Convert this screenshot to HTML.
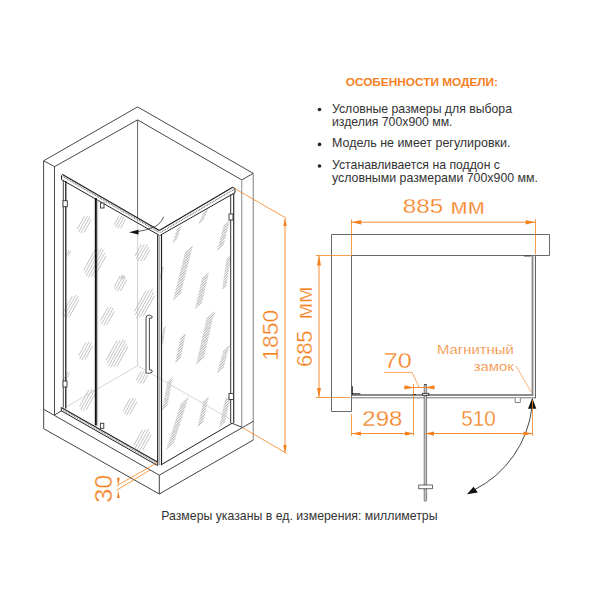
<!DOCTYPE html>
<html><head><meta charset="utf-8"><style>
html,body{margin:0;padding:0;background:#fff;}
svg{display:block;font-family:"Liberation Sans", sans-serif;}
</style></head><body>
<svg width="600" height="600" viewBox="0 0 600 600">
<rect width="600" height="600" fill="#fff"/>
<defs><pattern id="hp" width="1.9" height="1.9" patternUnits="userSpaceOnUse" patternTransform="rotate(48)"><rect width="1.9" height="1.9" fill="#fff"/><line x1="0" y1="0" x2="0" y2="1.9" stroke="#6e6e6e" stroke-width="1.0"/></pattern></defs>
<g fill="url(#hp)" stroke="none"><polygon points="172.0,244.0 177.0,239.5 182.0,224.7 177.0,229.2"/><polygon points="198.0,225.0 203.5,220.1 209.0,207.0 203.5,211.9"/><polygon points="217.0,251.0 223.5,245.2 230.0,220.0 223.5,225.8"/><polygon points="173.0,300.5 181.0,293.3 193.0,245.0 185.0,252.2"/><polygon points="195.0,309.0 202.0,302.7 209.0,272.0 202.0,278.3"/><polygon points="222.0,290.0 226.5,285.9 231.0,255.0 226.5,259.1"/><polygon points="159.0,281.0 161.5,278.8 164.0,266.0 161.5,268.2"/><polygon points="210.0,320.0 213.0,317.3 216.0,311.0 213.0,313.7"/><polygon points="194.7,308.5 198.2,305.4 201.7,300.0 198.2,303.1"/><polygon points="196.0,365.0 204.0,357.8 214.5,311.0 206.5,318.2"/><polygon points="175.0,363.7 180.5,358.8 186.0,332.6 180.5,337.6"/><polygon points="217.0,373.6 223.5,367.8 230.0,344.0 223.5,349.9"/><polygon points="160.7,345.0 163.3,342.6 166.0,325.5 163.3,327.9"/><polygon points="162.0,410.5 167.5,405.6 173.0,376.5 167.5,381.4"/><polygon points="166.0,450.0 174.0,442.8 189.0,396.0 181.0,403.2"/><polygon points="197.5,427.5 203.2,422.3 209.0,396.0 203.2,401.2"/><polygon points="219.0,427.5 225.2,421.9 231.5,393.5 225.2,399.1"/></g>
<g stroke="#9a9a9a" stroke-width="0.6"><line x1="77.3" y1="229.1" x2="84.4" y2="216.3"/><line x1="78.5" y1="232.1" x2="87.6" y2="215.7"/><line x1="80.7" y1="233.3" x2="89.8" y2="216.9"/><line x1="83.9" y1="232.7" x2="91.0" y2="219.9"/><line x1="114.1" y1="224.7" x2="119.1" y2="215.6"/><line x1="115.5" y1="227.2" x2="122.0" y2="215.6"/><line x1="117.7" y1="228.4" x2="124.2" y2="216.8"/><line x1="120.6" y1="228.4" x2="125.6" y2="219.3"/><line x1="134.9" y1="256.1" x2="141.3" y2="244.6"/><line x1="136.4" y1="258.5" x2="144.2" y2="244.6"/><line x1="137.9" y1="261.0" x2="147.1" y2="244.5"/><line x1="140.8" y1="260.9" x2="148.6" y2="247.0"/><line x1="143.7" y1="260.9" x2="150.1" y2="249.4"/><line x1="83.7" y1="270.2" x2="95.1" y2="249.7"/><line x1="84.9" y1="273.2" x2="98.2" y2="249.2"/><line x1="86.1" y1="276.2" x2="101.4" y2="248.6"/><line x1="88.3" y1="277.4" x2="103.6" y2="249.8"/><line x1="91.5" y1="276.8" x2="104.8" y2="252.8"/><line x1="94.6" y1="276.3" x2="106.0" y2="255.8"/><line x1="66.1" y1="255.5" x2="69.2" y2="250.0"/><line x1="67.8" y1="256.5" x2="70.9" y2="251.0"/><line x1="120.6" y1="278.4" x2="122.6" y2="274.7"/><line x1="122.4" y1="279.3" x2="124.4" y2="275.6"/><line x1="113.9" y1="287.3" x2="120.2" y2="276.0"/><line x1="115.2" y1="290.2" x2="123.3" y2="275.6"/><line x1="117.4" y1="291.4" x2="125.5" y2="276.8"/><line x1="120.5" y1="291.0" x2="126.8" y2="279.7"/><line x1="62.8" y1="313.3" x2="72.3" y2="296.1"/><line x1="63.6" y1="316.9" x2="75.9" y2="294.9"/><line x1="65.8" y1="318.1" x2="78.1" y2="296.1"/><line x1="69.4" y1="316.9" x2="78.9" y2="299.7"/><line x1="100.5" y1="320.9" x2="108.0" y2="307.4"/><line x1="101.6" y1="324.1" x2="111.2" y2="306.7"/><line x1="103.8" y1="325.3" x2="113.4" y2="307.9"/><line x1="107.0" y1="324.6" x2="114.5" y2="311.1"/><line x1="134.4" y1="311.4" x2="145.9" y2="290.7"/><line x1="135.3" y1="314.8" x2="149.3" y2="289.7"/><line x1="136.3" y1="318.3" x2="152.7" y2="288.7"/><line x1="139.7" y1="317.3" x2="153.7" y2="292.2"/><line x1="143.1" y1="316.3" x2="154.6" y2="295.6"/><line x1="78.5" y1="355.9" x2="86.0" y2="342.4"/><line x1="79.6" y1="359.1" x2="89.2" y2="341.7"/><line x1="81.8" y1="360.3" x2="91.4" y2="342.9"/><line x1="85.0" y1="359.6" x2="92.5" y2="346.1"/><line x1="106.0" y1="360.4" x2="117.0" y2="340.6"/><line x1="107.3" y1="363.3" x2="120.1" y2="340.1"/><line x1="108.5" y1="366.2" x2="123.3" y2="339.6"/><line x1="110.7" y1="367.4" x2="125.5" y2="340.8"/><line x1="113.9" y1="366.9" x2="126.7" y2="343.7"/><line x1="117.0" y1="366.4" x2="128.0" y2="346.6"/><line x1="136.4" y1="379.9" x2="141.0" y2="371.5"/><line x1="137.9" y1="382.3" x2="143.9" y2="371.5"/><line x1="140.1" y1="383.5" x2="146.1" y2="372.7"/><line x1="143.0" y1="383.5" x2="147.6" y2="375.1"/><line x1="79.7" y1="406.4" x2="88.8" y2="390.0"/><line x1="80.5" y1="410.0" x2="92.3" y2="388.8"/><line x1="82.7" y1="411.2" x2="94.5" y2="390.0"/><line x1="86.2" y1="410.0" x2="95.3" y2="393.6"/><line x1="123.2" y1="411.1" x2="130.3" y2="398.3"/><line x1="124.4" y1="414.1" x2="133.5" y2="397.7"/><line x1="126.5" y1="415.3" x2="135.6" y2="398.9"/><line x1="129.7" y1="414.7" x2="136.8" y2="401.9"/><line x1="133.8" y1="445.3" x2="142.4" y2="429.8"/><line x1="135.1" y1="448.2" x2="145.5" y2="429.3"/><line x1="136.3" y1="451.1" x2="148.7" y2="428.9"/><line x1="139.5" y1="450.7" x2="149.9" y2="431.8"/><line x1="142.6" y1="450.2" x2="151.2" y2="434.7"/><line x1="63.2" y1="380.4" x2="68.1" y2="371.6"/><line x1="64.9" y1="381.4" x2="69.8" y2="372.6"/></g>
<polyline points="43.6,409.3 43.6,160.8 137.6,106.9 253.3,173.4" stroke="#484848" stroke-width="1" fill="none" />
<polyline points="54.5,414.9 54.5,166.7 137.6,119.9 241.7,179.9" stroke="#484848" stroke-width="1" fill="none" />
<line x1="253.3" y1="173.4" x2="253.3" y2="440" stroke="#9c9c9c" stroke-width="1.3" />
<line x1="241.7" y1="179.9" x2="241.7" y2="427.3" stroke="#a4a4a4" stroke-width="1.3" />
<line x1="43.7" y1="160.8" x2="54.7" y2="166.7" stroke="#484848" stroke-width="1" />
<line x1="253.3" y1="173.4" x2="241.7" y2="179.9" stroke="#484848" stroke-width="1" />
<line x1="137.6" y1="119.9" x2="137.6" y2="218" stroke="#555" stroke-width="0.9" />
<line x1="137.6" y1="218" x2="137.6" y2="365.7" stroke="#bbb" stroke-width="0.7" />
<line x1="137.6" y1="365.7" x2="67" y2="406.5" stroke="#c4c4c4" stroke-width="0.7" />
<line x1="137.6" y1="365.7" x2="231" y2="419.6" stroke="#c4c4c4" stroke-width="0.7" />
<polyline points="43.7,409.3 43.7,428.7 159.3,494 253.3,440" stroke="#444" stroke-width="1" fill="none" />
<polyline points="43.7,409.3 159.3,475.2 253.3,421.3" stroke="#444" stroke-width="1" fill="none" />
<line x1="159.3" y1="475.2" x2="159.3" y2="494" stroke="#444" stroke-width="1" />
<line x1="54.7" y1="414.9" x2="61.7" y2="410.7" stroke="#444" stroke-width="1" />
<line x1="232" y1="423.3" x2="242" y2="427.3" stroke="#444" stroke-width="1" />
<line x1="62.5" y1="174.5" x2="159.3" y2="230.5" stroke="#222" stroke-width="1.3" />
<line x1="62.5" y1="176.4" x2="159.3" y2="232.4" stroke="#777" stroke-width="1.2" stroke-dasharray="1 0.8"/>
<line x1="61.7" y1="179.7" x2="159.3" y2="235.3" stroke="#222" stroke-width="1.0" />
<polyline points="62.5,174.5 61.5,175.5 61.5,179.7" stroke="#222" stroke-width="1.0" fill="none" />
<line x1="159.3" y1="230.5" x2="232.7" y2="187.3" stroke="#222" stroke-width="1.3" />
<line x1="160.5" y1="232.4" x2="234" y2="189.4" stroke="#777" stroke-width="1.2" stroke-dasharray="1 0.8"/>
<line x1="160.3" y1="235.2" x2="235" y2="192.7" stroke="#222" stroke-width="1.0" />
<polyline points="232.7,187.3 235,188.7 235,192.7" stroke="#222" stroke-width="1.0" fill="none" />
<line x1="63.3" y1="180" x2="63.3" y2="407.5" stroke="#333" stroke-width="0.9" />
<line x1="65.8" y1="181" x2="65.8" y2="408.5" stroke="#222" stroke-width="1.3" />
<line x1="95.8" y1="198" x2="95.8" y2="425.4" stroke="#111" stroke-width="2.0" />
<line x1="97.7" y1="199" x2="97.7" y2="426" stroke="#aaa" stroke-width="0.8" />
<line x1="157.7" y1="235" x2="157.7" y2="465.3" stroke="#222" stroke-width="1.2" />
<line x1="159.5" y1="235" x2="159.5" y2="465.3" stroke="#999" stroke-width="0.8" />
<line x1="161.5" y1="235" x2="161.5" y2="465.3" stroke="#222" stroke-width="1.2" />
<line x1="230.7" y1="194.3" x2="230.7" y2="423.3" stroke="#333" stroke-width="1.0" />
<line x1="233.7" y1="193" x2="233.7" y2="423.3" stroke="#222" stroke-width="1.1" />
<line x1="61.25" y1="407.5" x2="157.5" y2="462" stroke="#222" stroke-width="1.1" />
<line x1="61.6" y1="409.2" x2="157.5" y2="463.7" stroke="#888" stroke-width="1.3" stroke-dasharray="0.9 0.9"/>
<line x1="61.25" y1="410.8" x2="157.5" y2="465.5" stroke="#222" stroke-width="1.0" />
<line x1="61.25" y1="407.5" x2="61.25" y2="410.8" stroke="#222" stroke-width="0.9" />
<line x1="161.3" y1="464.7" x2="232" y2="423.3" stroke="#222" stroke-width="1.0" />
<rect x="63" y="200.7" width="4.3" height="6" fill="#fff" stroke="#333" stroke-width="0.9"/>
<rect x="100.5" y="203" width="3.5" height="5" fill="#fff" stroke="#333" stroke-width="0.9"/>
<rect x="229" y="214" width="4" height="6" fill="#fff" stroke="#333" stroke-width="0.9"/>
<rect x="63" y="381" width="4" height="6" fill="#fff" stroke="#333" stroke-width="0.9"/>
<rect x="100.4" y="423.3" width="3.4" height="5" fill="#fff" stroke="#333" stroke-width="0.9"/>
<rect x="229" y="393.5" width="4.5" height="6" fill="#fff" stroke="#333" stroke-width="0.9"/>
<path d="M146,373 L146,318 Q146,315 149.5,315 L152.3,316.5 L151.5,318.3 L149.4,318 L149.4,370 L151.5,370 L152.3,372 L149.5,373.3 Z" fill="#fff" stroke="#333" stroke-width="0.9"/>
<path d="M163.7,216.7 Q160,226 151,228 Q146,230.5 136,231.8" fill="none" stroke="#333" stroke-width="0.8"/>
<path d="M129,232.3 L138.5,229.8 L138.5,234.5 Z" fill="#111"/>
<line x1="234.6" y1="188.5" x2="286.8" y2="218.5" stroke="#F5811F" stroke-width="0.8" />
<line x1="242.8" y1="427.8" x2="286.8" y2="453.5" stroke="#F5811F" stroke-width="0.8" />
<line x1="285" y1="219" x2="285" y2="452.6" stroke="#F5811F" stroke-width="0.9" />
<path d="M285,218.5 L283.2,226 L286.8,226 Z" fill="#F5811F"/>
<path d="M285,452.8 L283.2,445 L286.8,445 Z" fill="#F5811F"/>
<line x1="157.3" y1="462.7" x2="116.7" y2="485.75" stroke="#F5811F" stroke-width="0.8" />
<line x1="150" y1="470" x2="116.7" y2="490.25" stroke="#F5811F" stroke-width="0.8" />
<path d="M118.3,485.8 L116.9,477.8 L119.7,477.8 Z" fill="#F5811F"/>
<path d="M118.3,490.8 L116.9,498 L119.7,498 Z" fill="#F5811F"/>
<text transform="translate(278.4,360.8) rotate(-90)" font-size="21.6" fill="#F5811F" stroke="#fff" stroke-width="0.3" textLength="51" lengthAdjust="spacingAndGlyphs">1850</text>
<text transform="translate(312.3,367.1) rotate(-90)" font-size="22.5" fill="#F5811F" stroke="#fff" stroke-width="0.3" textLength="36.7" lengthAdjust="spacingAndGlyphs">685</text>
<text transform="translate(312.3,319.6) rotate(-90)" font-size="22.5" fill="#F5811F" stroke="#fff" stroke-width="0.3" textLength="33.2" lengthAdjust="spacingAndGlyphs">мм</text>
<text transform="translate(112.4,502.8) rotate(-90)" font-size="23.8" fill="#F5811F" stroke="#fff" stroke-width="0.3" textLength="28" lengthAdjust="spacingAndGlyphs">30</text>
<polyline points="549.5,255.5 549.5,234.5 331.5,234.5 331.5,411.5 351.5,411.5 351.5,255.5 549.5,255.5" stroke="#6a6a6a" stroke-width="1.0" fill="none" />
<line x1="352" y1="395" x2="533.3" y2="395" stroke="#666" stroke-width="1.5" />
<line x1="352" y1="397.8" x2="535.4" y2="397.8" stroke="#777" stroke-width="1.0" />
<line x1="352.3" y1="386.2" x2="352.3" y2="395" stroke="#222" stroke-width="1.0" />
<line x1="352" y1="393.8" x2="360.4" y2="393.8" stroke="#222" stroke-width="1.0" />
<line x1="532.5" y1="255.5" x2="532.5" y2="395.5" stroke="#888" stroke-width="1.8" />
<line x1="535.4" y1="255.5" x2="535.4" y2="398.3" stroke="#555" stroke-width="1.0" />
<line x1="524" y1="256" x2="531" y2="256" stroke="#333" stroke-width="0.9" />
<rect x="424.2" y="384.4" width="2.4" height="116.8" rx="0.8" fill="#c4c4c4" stroke="#5a5a5a" stroke-width="0.7"/>
<rect x="424.1" y="384" width="2.5" height="1.2" fill="#444"/>
<rect x="422.6" y="393.3" width="6.2" height="1.9" fill="#fff" stroke="#222" stroke-width="0.8"/>
<rect x="412.5" y="394" width="3.3" height="1" fill="#222"/>
<rect x="418.75" y="485" width="13.75" height="3.75" fill="#fff" stroke="#444" stroke-width="0.8"/>
<path d="M515.2,398 L515.2,402.5 L520.3,402.5 L520.3,398" fill="#fff" stroke="#666" stroke-width="0.8"/>
<path d="M532,407 A106.5,106.5 0 0 1 474,490" fill="none" stroke="#333" stroke-width="0.9"/>
<path d="M532.3,398 L528,408.8 L536.3,408.8 Z" fill="#111"/>
<path d="M467,494.3 L473.5,486.8 L477.8,492.6 Z" fill="#111"/>
<line x1="351.5" y1="219.3" x2="351.5" y2="255" stroke="#F5811F" stroke-width="0.8" />
<line x1="535.5" y1="219.3" x2="535.5" y2="254.2" stroke="#F5811F" stroke-width="0.8" />
<line x1="351.5" y1="222.2" x2="535.5" y2="222.2" stroke="#F5811F" stroke-width="0.9" />
<path d="M351.8,222.2 L361.3,220 L361.3,224.4 Z" fill="#F5811F"/>
<path d="M535.2,222.2 L525.7,220 L525.7,224.4 Z" fill="#F5811F"/>
<line x1="315.8" y1="255.5" x2="351.5" y2="255.5" stroke="#F5811F" stroke-width="0.8" />
<line x1="315.8" y1="397.5" x2="350" y2="397.5" stroke="#F5811F" stroke-width="0.8" />
<line x1="319" y1="256" x2="319" y2="397" stroke="#F5811F" stroke-width="0.9" />
<path d="M319,255.6 L317,265.5 L321,265.5 Z" fill="#F5811F"/>
<path d="M319,397.5 L317,388 L321,388 Z" fill="#F5811F"/>
<line x1="351.5" y1="414" x2="351.5" y2="436" stroke="#F5811F" stroke-width="0.8" />
<line x1="413.5" y1="384" x2="413.5" y2="436" stroke="#F5811F" stroke-width="0.8" />
<line x1="532.5" y1="400" x2="532.5" y2="436" stroke="#F5811F" stroke-width="0.8" />
<line x1="352" y1="433.5" x2="413.5" y2="433.5" stroke="#F5811F" stroke-width="0.9" />
<line x1="425.3" y1="433.5" x2="532.5" y2="433.5" stroke="#F5811F" stroke-width="0.9" />
<path d="M352.3,433.6 L361,431.4 L361,435.8 Z" fill="#F5811F"/>
<path d="M413.7,433.6 L405,431.4 L405,435.8 Z" fill="#F5811F"/>
<path d="M425.3,433.6 L434,431.4 L434,435.8 Z" fill="#F5811F"/>
<path d="M532.2,433.6 L523.5,431.4 L523.5,435.8 Z" fill="#F5811F"/>
<line x1="404" y1="387.5" x2="434" y2="387.5" stroke="#F5811F" stroke-width="0.9" />
<path d="M414,387.4 L404.5,385.2 L404.5,389.6 Z" fill="#F5811F"/>
<path d="M425,387.4 L434.5,385.2 L434.5,389.6 Z" fill="#F5811F"/>
<polyline points="384,372.4 412,372.4 419,387" stroke="#F5811F" stroke-width="0.7" fill="none" />
<line x1="516" y1="366" x2="531.2" y2="392" stroke="#F5811F" stroke-width="0.6" />
<text x="402.8" y="213.4" font-size="21.1" fill="#F5811F" font-weight="normal" stroke="#fff" stroke-width="0.3" textLength="40.5" lengthAdjust="spacingAndGlyphs">885</text>
<text x="450.6" y="214.4" font-size="22" fill="#F5811F" font-weight="normal" stroke="#fff" stroke-width="0.3" textLength="34.2" lengthAdjust="spacingAndGlyphs">мм</text>
<text x="383.8" y="368.1" font-size="22.1" fill="#F5811F" font-weight="normal" stroke="#fff" stroke-width="0.3" textLength="28" lengthAdjust="spacingAndGlyphs">70</text>
<text x="362.3" y="425.8" font-size="22.4" fill="#F5811F" font-weight="normal" stroke="#fff" stroke-width="0.3" textLength="40" lengthAdjust="spacingAndGlyphs">298</text>
<text x="461.2" y="425.8" font-size="22.4" fill="#F5811F" font-weight="normal" stroke="#fff" stroke-width="0.3" textLength="34.5" lengthAdjust="spacingAndGlyphs">510</text>
<text x="437" y="354.25" font-size="12.5" fill="#F5811F" font-weight="normal" stroke="#fff" stroke-width="0.2" textLength="76.75" lengthAdjust="spacingAndGlyphs">Магнитный</text>
<text x="473.75" y="370.5" font-size="12.5" fill="#F5811F" font-weight="normal" stroke="#fff" stroke-width="0.2" textLength="40" lengthAdjust="spacingAndGlyphs">замок</text>
<text x="345.75" y="86.25" font-size="11.4" fill="#F5811F" font-weight="bold" textLength="152.25" lengthAdjust="spacingAndGlyphs">ОСОБЕННОСТИ МОДЕЛИ:</text>
<text x="332" y="113" font-size="12.2" fill="#333333" font-weight="normal" textLength="180" lengthAdjust="spacingAndGlyphs">Условные размеры для выбора</text>
<text x="332" y="126.25" font-size="12.2" fill="#333333" font-weight="normal" textLength="120.5" lengthAdjust="spacingAndGlyphs">изделия 700х900 мм.</text>
<text x="332" y="147.4" font-size="12.2" fill="#333333" font-weight="normal" textLength="178.39999999999998" lengthAdjust="spacingAndGlyphs">Модель не имеет регулировки.</text>
<text x="332" y="169" font-size="12.2" fill="#333333" font-weight="normal" textLength="168" lengthAdjust="spacingAndGlyphs">Устанавливается на поддон с</text>
<text x="332" y="182.4" font-size="12.2" fill="#333333" font-weight="normal" textLength="206" lengthAdjust="spacingAndGlyphs">условными размерами 700х900 мм.</text>
<circle cx="319.5" cy="109.5" r="1.8" fill="#222"/>
<circle cx="319.5" cy="144.4" r="1.8" fill="#222"/>
<circle cx="319.5" cy="166" r="1.8" fill="#222"/>
<text x="161.25" y="520" font-size="12.2" fill="#333333" font-weight="normal" textLength="276.25" lengthAdjust="spacingAndGlyphs">Размеры указаны в ед. измерения: миллиметры</text>
</svg></body></html>
